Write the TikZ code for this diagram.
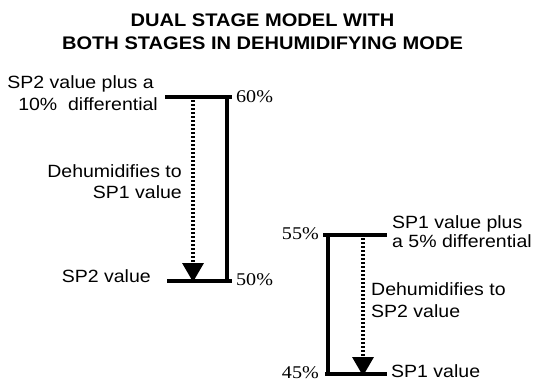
\documentclass[tikz,border=0pt]{standalone}
\usepackage{fontspec}
\setmainfont{Liberation Sans}[FakeStretch=1.1]
\newfontfamily\pctfont{Liberation Serif}[FakeStretch=1.12]
\usetikzlibrary{arrows.meta}

\begin{document}
\begin{tikzpicture}[x=1bp, y=-1bp,
  bar/.style = {line width=3.2bp},
  flow/.style = {line width=3.4bp, dash pattern=on 2.4bp off 1.6bp, -{Triangle[width=21bp, length=19bp, sep=-1bp]}},
  lbl/.style = {font=\fontsize{17.8}{21}\selectfont, inner sep=0pt},
  pct/.style = {font=\pctfont\fontsize{18}{20}\selectfont, inner sep=0pt},
  title/.style = {font=\bfseries\fontsize{18.3}{23.3}\selectfont, align=center, inner sep=0pt}]
\useasboundingbox (0,0) rectangle (539,381);

% title
\node[title, anchor=base] (head1) at (262.5,26) {DUAL STAGE MODEL WITH};
\node[title, anchor=base] (head2) at (262.5,49.3) {BOTH STAGES IN DEHUMIDIFYING MODE};

% first stage
\coordinate (a1) at (165,97);
\coordinate (a2) at (232,97);
\coordinate (a3) at (227,97);
\coordinate (b1) at (167,281);
\coordinate (b2) at (232,281);
\coordinate (b3) at (227,281);
\coordinate (s1) at (193,100);
\coordinate (e1) at (193,281);
\node[pct, anchor=base west] (p60) at (236,102) {60\%};
\node[pct, anchor=base west] (p50) at (236,285) {50\%};
\node[lbl, anchor=base east] (hi2a) at (154,88) {SP2 value plus a};
\node[lbl, anchor=base east] (hi2b) at (158,110) {10\%\ \ differential};
\node[lbl, anchor=base east] (act2a) at (182,177) {Dehumidifies to};
\node[lbl, anchor=base east] (act2b) at (182,198) {SP1 value};
\node[lbl, anchor=base east] (sp2) at (151,282) {SP2 value};
\draw[bar] (a1) -- (a2);
\draw[bar] (b1) -- (b2);
\draw[bar] (a3) -- (b3);
\draw[flow] (s1) -- (e1);

% second stage
\coordinate (c1) at (323,235);
\coordinate (c2) at (387,235);
\coordinate (c3) at (328,235);
\coordinate (d1) at (325,374);
\coordinate (d2) at (387,374);
\coordinate (d3) at (328,374);
\coordinate (s2) at (363,238);
\coordinate (e2) at (363,375);
\node[pct, anchor=base east] (p55) at (319,239) {55\%};
\node[pct, anchor=base east] (p45) at (319,378) {45\%};
\node[lbl, anchor=base west] (hi1a) at (392,228) {SP1 value plus};
\node[lbl, anchor=base west] (hi1b) at (392,247) {a 5\% differential};
\node[lbl, anchor=base west] (act1a) at (371,295) {Dehumidifies to};
\node[lbl, anchor=base west] (act1b) at (371,317) {SP2 value};
\node[lbl, anchor=base west] (sp1) at (391,377) {SP1 value};
\draw[bar] (c1) -- (c2);
\draw[bar] (d1) -- (d2);
\draw[bar] (c3) -- (d3);
\draw[flow] (s2) -- (e2);
\end{tikzpicture}
\end{document}
